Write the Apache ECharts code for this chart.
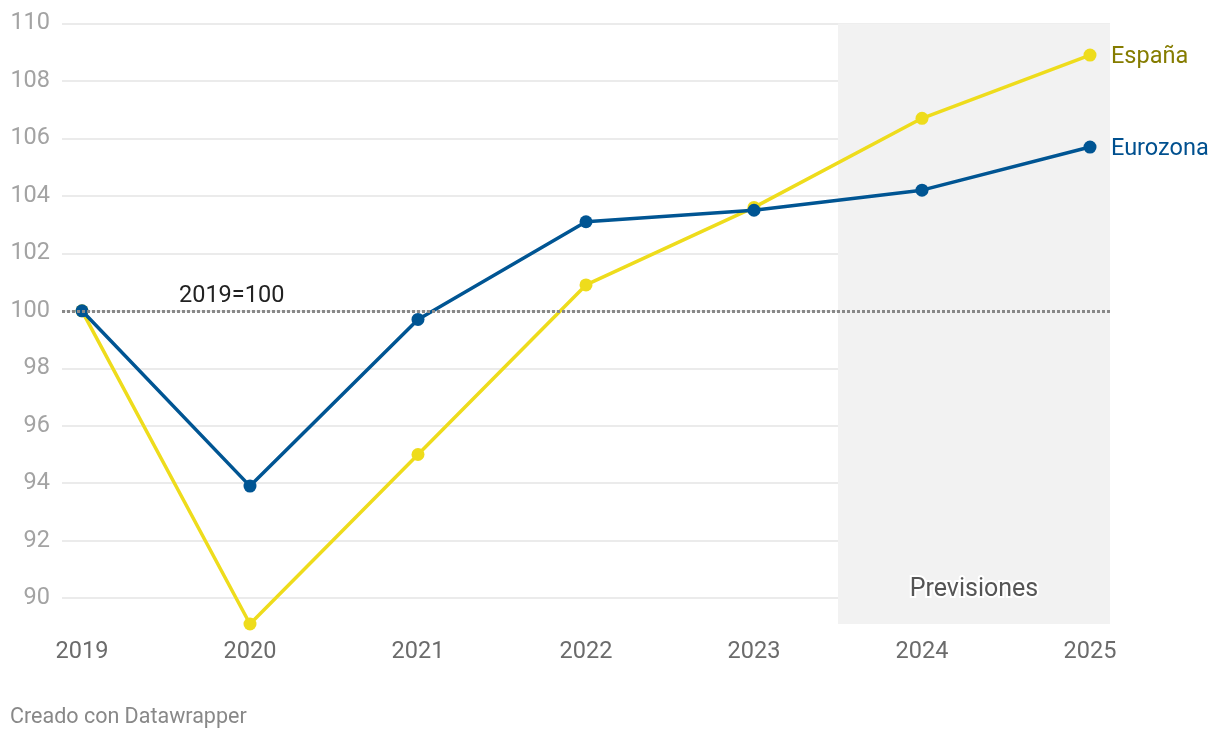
<!DOCTYPE html>
<html><head><meta charset="utf-8">
<script src="https://cdn.jsdelivr.net/npm/echarts@6/dist/echarts.min.js"></script>
<style>html,body{margin:0;padding:0;background:#fff}#c{width:1220px;height:740px}</style>
</head><body><div id="c"></div>
<script>
const years = [2019, 2020, 2021, 2022, 2023, 2024, 2025];
const espana = [100, 89.1, 95.0, 100.9, 103.6, 106.7, 108.9];
const eurozona = [100, 93.9, 99.7, 103.1, 103.5, 104.2, 105.7];
const yTicks = [90, 92, 94, 96, 98, 100, 102, 104, 106, 108, 110];
const xTicks = [2019, 2020, 2021, 2022, 2023, 2024, 2025];
const forecastStart = 2023.5;
const baseValue = 100;

const FONT = 'Roboto';
const chart = echarts.init(document.getElementById('c'));
const pairs = arr => years.map((y, i) => [y, arr[i]]);

chart.setOption({
  animation: false,
  textStyle: { fontFamily: FONT },
  grid: { left: 62, right: 110, top: 23.5, bottom: 116 },
  xAxis: {
    type: 'value', min: 2018.881, max: 2025.119,
    axisLine: { show: false }, axisTick: { show: false },
    splitLine: { show: false },
    axisLabel: { customValues: xTicks, formatter: v => String(v), color: '#6b6b6b', fontSize: 23.5, margin: 16, fontFamily: FONT }
  },
  yAxis: {
    type: 'value', min: 89.1, max: 110,
    axisLine: { show: false },
    axisTick: { show: false, customValues: yTicks },
    axisLabel: { customValues: yTicks, color: '#a3a3a3', fontSize: 23.5, margin: 12, fontFamily: FONT },
    splitLine: { show: true, lineStyle: { color: '#e5e5e5', width: 1.5 } }
  },
  series: [
    {
      type: 'line', name: 'base', data: [], silent: true, z: 1,
      markArea: {
        silent: true,
        itemStyle: { color: '#f2f2f2' },
        label: { show: true, position: 'insideBottom', distance: 22, color: '#555', fontSize: 25, fontFamily: FONT, textBorderColor: '#fff', textBorderWidth: 4 },
        data: [[{ name: 'Previsiones', xAxis: forecastStart, yAxis: 'max' }, { xAxis: 'max', yAxis: 'min' }]]
      },
      markLine: {
        silent: true, symbol: 'none',
        lineStyle: { color: '#888', type: [3, 2], width: 3 },
        label: { show: true, position: 'insideStartTop', formatter: '2019=100', color: '#222', fontSize: 23.5, fontFamily: FONT, padding: [0, 0, 0, 114], distance: 3 },
        data: [{ yAxis: baseValue }]
      }
    },
    {
      type: 'line', name: 'España', data: pairs(espana), z: 3,
      color: '#eedc1c', lineStyle: { width: 3.5 },
      symbol: 'circle', symbolSize: 13, showSymbol: true,
      endLabel: { show: true, formatter: 'España', color: '#857c00', fontSize: 23.5, fontFamily: FONT, distance: 21, offset: [0, 2] }
    },
    {
      type: 'line', name: 'Eurozona', data: pairs(eurozona), z: 4,
      color: '#005593', lineStyle: { width: 3.5 },
      symbol: 'circle', symbolSize: 13, showSymbol: true,
      endLabel: { show: true, formatter: 'Eurozona', color: '#00508f', fontSize: 23.5, fontFamily: FONT, distance: 21, offset: [0, 2] }
    }
  ],
  graphic: [
    { type: 'text', left: 10, top: 707, style: { text: 'Creado con Datawrapper', fill: '#888', fontSize: 21.5, fontFamily: FONT } }
  ]
});
</script></body></html>
